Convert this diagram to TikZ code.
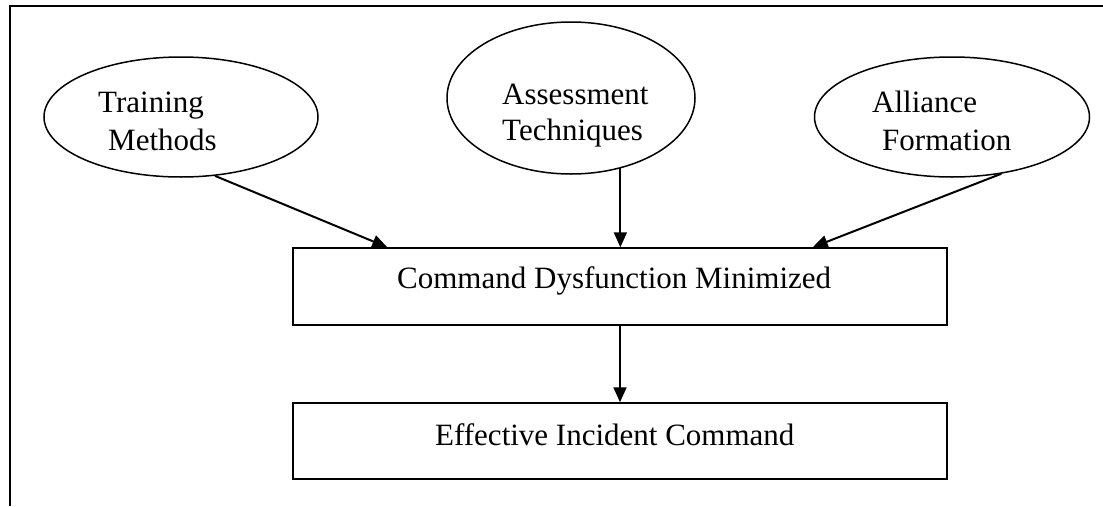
\documentclass[tikz,border=0pt]{standalone}
\usepackage{fontspec}
\setmainfont{Liberation Serif}
\usetikzlibrary{shapes.geometric,arrows.meta,calc}

\tikzset{
  oval/.style={draw, ellipse, line width=1.5pt, inner sep=0pt},
  boxnode/.style={draw, rectangle, line width=1.5pt, inner sep=0pt},
  lbl/.style={anchor=base west, inner sep=0pt, font=\fontsize{31}{36}\selectfont},
  flow/.style={line width=2pt, -{Triangle[length=15pt,width=13pt]}},
  frame/.style={line width=2.2pt}
}

\begin{document}
\begin{tikzpicture}[x=1pt,y=-1pt]
  \useasboundingbox (0,0) rectangle (1103,506);

  % page frame (top and left edges only)
  \draw[frame] (10,506) -- (10,6) -- (1103,6);

  % factor ovals
  \node[oval, minimum width=274pt, minimum height=120pt] (tm) at (181,117) {};
  \node[oval, minimum width=248pt, minimum height=152pt] (as) at (571,98) {};
  \node[oval, minimum width=275pt, minimum height=120pt] (af) at (952,117) {};

  \node[lbl] (tm1) at (98,112) {Training};
  \node[lbl] (tm2) at (108,150) {Methods};
  \node[lbl] (as1) at (502,104) {Assessment};
  \node[lbl] (as2) at (502,140) {Techniques};
  \node[lbl] (af1) at (872,112) {Alliance};
  \node[lbl] (af2) at (882,150) {Formation};

  % outcome boxes
  \node[boxnode, minimum width=654pt, minimum height=77pt] (cmd) at (620,286.5) {};
  \node[boxnode, minimum width=654pt, minimum height=76pt] (eff) at (620,441) {};

  \node[lbl] (cmdt) at (397,288) {Command Dysfunction Minimized};
  \node[lbl] (efft) at (435,445) {Effective Incident Command};

  % arrow end points on the top edge of the upper box
  \coordinate (inL) at ($(cmd.north west)+(95,0)$);
  \coordinate (inR) at ($(cmd.north east)+(-135,0)$);

  % connectors
  \draw[flow] (tm.-60) -- (inL);
  \draw[flow] (as.-55) -- (as.-55 |- cmd.north);
  \draw[flow] (af.-49) -- (inR);
  \draw[flow] (cmd.south) -- (eff.north);
\end{tikzpicture}
\end{document}
